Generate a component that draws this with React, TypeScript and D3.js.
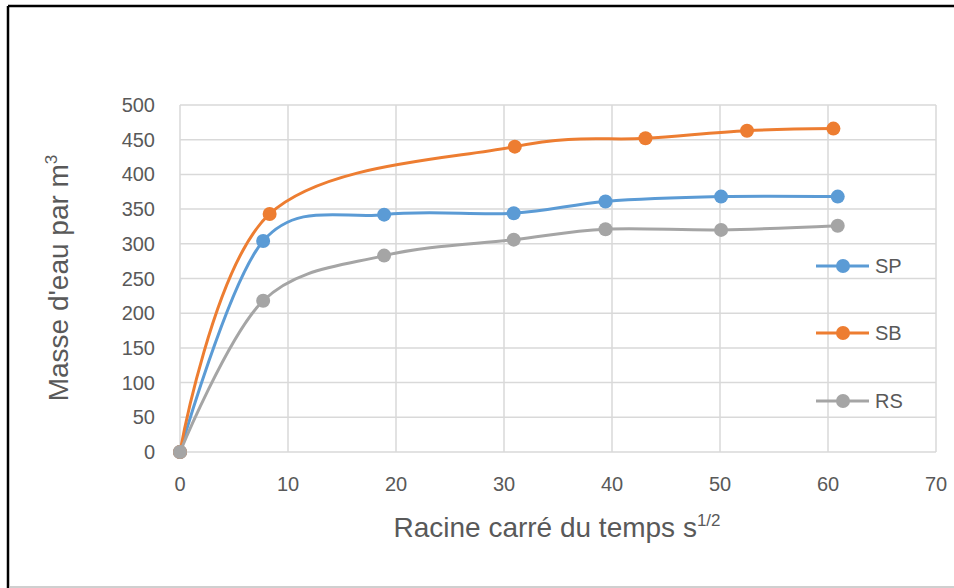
import * as d3 from 'd3'

const W = 954
const H = 588

// x = racine carrée du temps (s^1/2), y = masse d'eau par m3
const spX = [0, 7.7, 18.9, 30.9, 39.4, 50.1, 60.9]
const spY = [0, 304, 342, 344, 361, 368, 368]
const sbX = [0, 8.3, 31.0, 43.1, 52.5, 60.5]
const sbY = [0, 343, 440, 452, 463, 466]
const rsX = [0, 7.7, 18.9, 30.9, 39.4, 50.1, 60.9]
const rsY = [0, 218, 283, 306, 321, 320, 326]

const seriesNames = ['SP', 'SB', 'RS']
const seriesColors = ['#5B9BD5', '#ED7D31', '#A5A5A5']

const xTicks = [0, 10, 20, 30, 40, 50, 60, 70]
const yTicks = [0, 50, 100, 150, 200, 250, 300, 350, 400, 450, 500]

const FONT = '"Liberation Sans", Arial, sans-serif'
const TEXT = '#595959'
const GRID = '#D9D9D9'

export default function App() {
  const x = d3.scaleLinear().domain([0, 70]).range([180, 936])
  const y = d3.scaleLinear().domain([0, 500]).range([452, 105])

  const series = [
    { name: seriesNames[0], color: seriesColors[0], pts: spX.map((v, i) => [v, spY[i]] as [number, number]) },
    { name: seriesNames[1], color: seriesColors[1], pts: sbX.map((v, i) => [v, sbY[i]] as [number, number]) },
    { name: seriesNames[2], color: seriesColors[2], pts: rsX.map((v, i) => [v, rsY[i]] as [number, number]) },
  ]

  const line = d3.line<[number, number]>()
    .x(d => x(d[0]))
    .y(d => y(d[1]))
    .curve(d3.curveCardinal.tension(0))

  const legendY = [266, 333, 401]

  return (
    <svg
      width={W}
      height={H}
      style={{ position: 'fixed', left: 0, top: 0, background: '#fff' }}
      fontFamily={FONT}
    >
      <rect x={0} y={0} width={W} height={H} fill="#fff" />
      {/* frame */}
      <line x1={8} y1={6} x2={W} y2={6} stroke="#000" strokeWidth={2.5} />
      <line x1={8} y1={6} x2={8} y2={H} stroke="#000" strokeWidth={2.5} />
      <line x1={9} y1={587} x2={W} y2={587} stroke="#BFBFBF" strokeWidth={1.5} />

      {/* grid */}
      {yTicks.map(t => (
        <line key={'gy' + t} x1={x(0)} x2={x(70)} y1={y(t)} y2={y(t)} stroke={GRID} strokeWidth={1.5} />
      ))}
      {xTicks.map(t => (
        <line key={'gx' + t} x1={x(t)} x2={x(t)} y1={y(0)} y2={y(500)} stroke={GRID} strokeWidth={1.5} />
      ))}

      {/* tick labels */}
      {yTicks.map(t => (
        <text key={'ty' + t} x={155} y={y(t)} dy="0.35em" textAnchor="end" fontSize={20} fill={TEXT}>{t}</text>
      ))}
      {xTicks.map(t => (
        <text key={'tx' + t} x={x(t)} y={491} textAnchor="middle" fontSize={20} fill={TEXT}>{t}</text>
      ))}

      {/* axis titles */}
      <text x={557} y={537} textAnchor="middle" fontSize={28} fill={TEXT}>
        Racine carré du temps s<tspan dy={-11} fontSize={17}>1/2</tspan>
      </text>
      <text transform="translate(68,278) rotate(-90)" textAnchor="middle" fontSize={28} fill={TEXT}>
        Masse d'eau par m<tspan dy={-11} fontSize={17}>3</tspan>
      </text>

      {/* series */}
      {series.map(s => (
        <g key={s.name}>
          <path d={line(s.pts) ?? ''} fill="none" stroke={s.color} strokeWidth={3} />
          {s.pts.map((p, i) => (
            <circle key={i} cx={x(p[0])} cy={y(p[1])} r={7} fill={s.color} />
          ))}
        </g>
      ))}

      {/* legend */}
      {series.map((s, i) => (
        <g key={'lg' + s.name}>
          <line x1={816} x2={869} y1={legendY[i]} y2={legendY[i]} stroke={s.color} strokeWidth={3} />
          <circle cx={843} cy={legendY[i]} r={7} fill={s.color} />
          <text x={875} y={legendY[i]} dy="0.35em" fontSize={20} fill={TEXT}>{s.name}</text>
        </g>
      ))}
    </svg>
  )
}
